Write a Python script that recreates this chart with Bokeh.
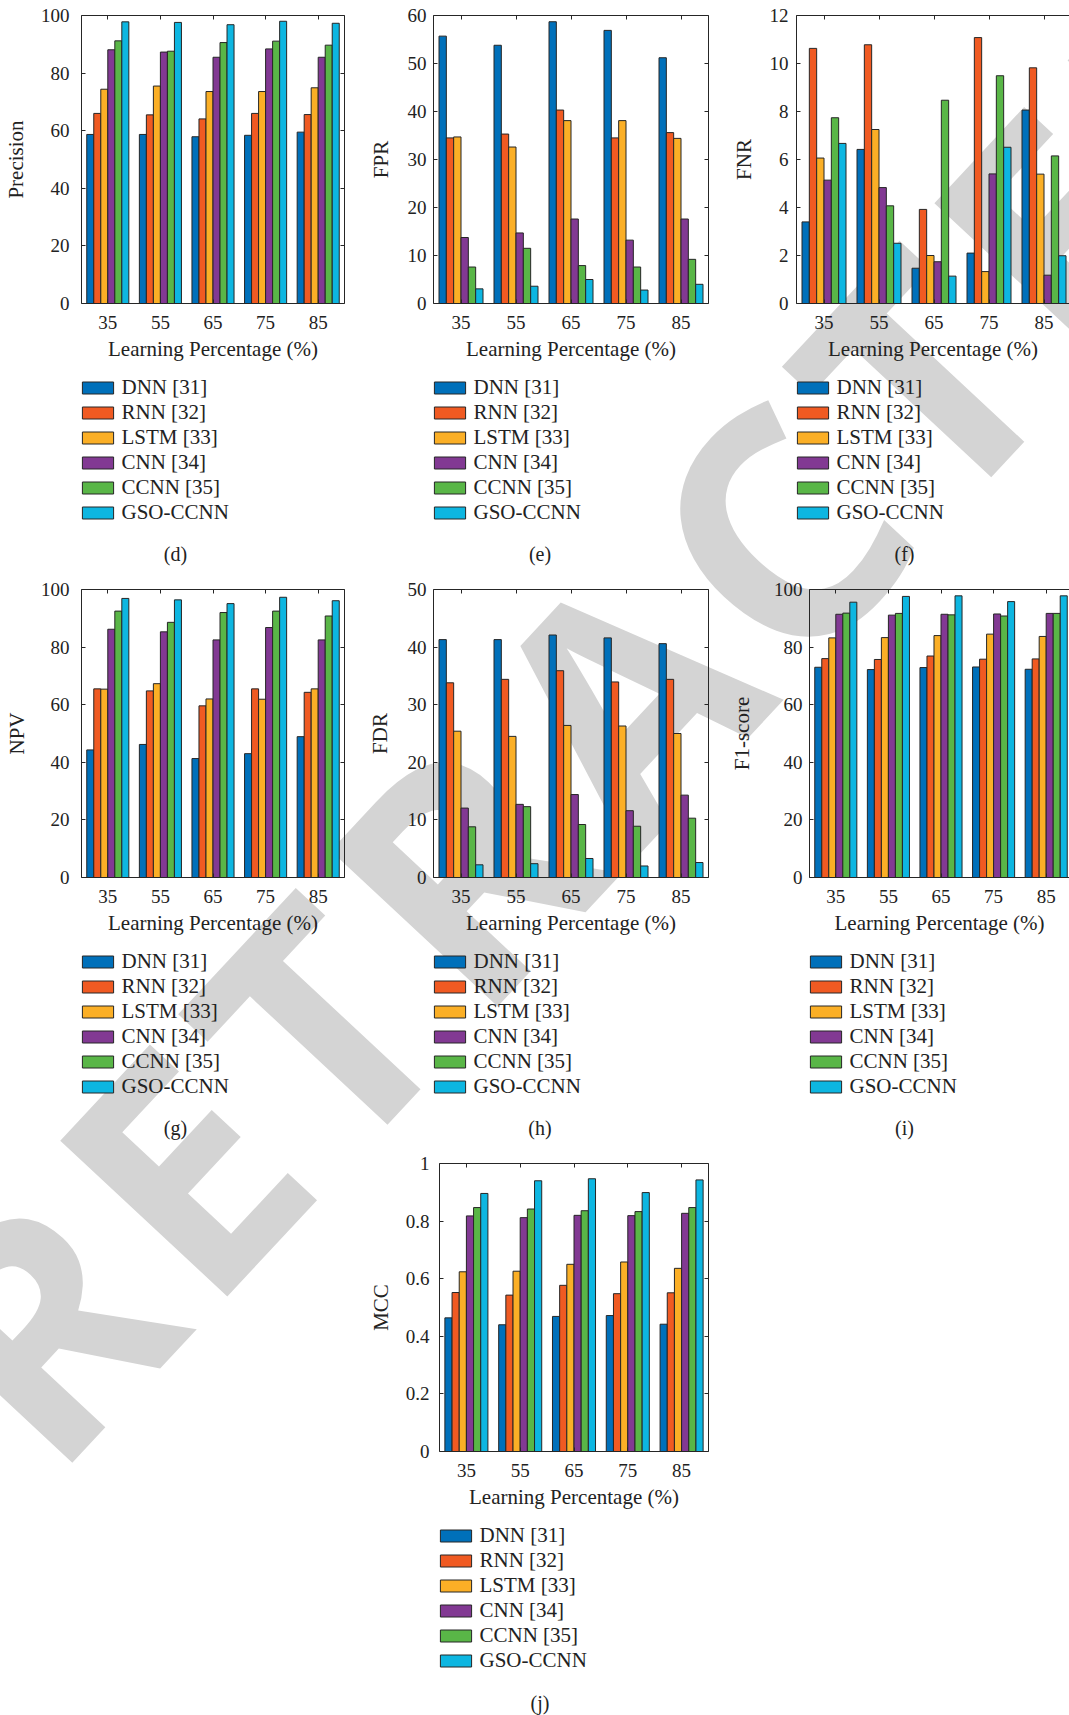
from bokeh.plotting import figure
from bokeh.models import (ColumnDataSource, FixedTicker, LinearAxis, Legend, LegendItem,
                          Label, Range1d, NumeralTickFormatter, Spacer)
from bokeh.layouts import row, column
from bokeh.transform import dodge
from bokeh.embed import file_html
from bokeh.resources import INLINE

# ---------------- data ----------------
lp_labels = ["35", "55", "65", "75", "85"]
models = ["DNN [31]", "RNN [32]", "LSTM [33]", "CNN [34]", "CCNN [35]", "GSO-CCNN"]
colors = ["#0070BA", "#F05A22", "#FBAF26", "#823993", "#59B647", "#0DB6E1"]

precision = {
    "DNN [31]": [58.7, 58.7, 57.9, 58.4, 59.5],
    "RNN [32]": [66.0, 65.5, 64.1, 66.0, 65.6],
    "LSTM [33]": [74.4, 75.5, 73.6, 73.6, 74.9],
    "CNN [34]": [88.1, 87.3, 85.5, 88.4, 85.5],
    "CCNN [35]": [91.2, 87.6, 90.6, 91.1, 89.7],
    "GSO-CCNN": [97.8, 97.6, 96.8, 98.0, 97.3],
}
fpr = {
    "DNN [31]": [55.7, 53.8, 58.7, 56.9, 51.2],
    "RNN [32]": [34.5, 35.3, 40.3, 34.5, 35.6],
    "LSTM [33]": [34.7, 32.6, 38.1, 38.1, 34.4],
    "CNN [34]": [13.75, 14.7, 17.6, 13.2, 17.6],
    "CCNN [35]": [7.6, 11.5, 7.9, 7.6, 9.2],
    "GSO-CCNN": [3.05, 3.6, 5.0, 2.8, 4.0],
}
fnr = {
    "DNN [31]": [3.40, 6.42, 1.47, 2.10, 8.06],
    "RNN [32]": [10.63, 10.78, 3.92, 11.08, 9.82],
    "LSTM [33]": [6.06, 7.25, 2.00, 1.33, 5.39],
    "CNN [34]": [5.14, 4.83, 1.74, 5.40, 1.18],
    "CCNN [35]": [7.74, 4.07, 8.47, 9.49, 6.15],
    "GSO-CCNN": [6.67, 2.51, 1.14, 6.51, 1.99],
}
npv = {
    "DNN [31]": [44.3, 46.2, 41.3, 43.0, 48.9],
    "RNN [32]": [65.5, 64.8, 59.6, 65.5, 64.3],
    "LSTM [33]": [65.4, 67.3, 62.0, 61.9, 65.5],
    "CNN [34]": [86.2, 85.3, 82.5, 86.8, 82.5],
    "CCNN [35]": [92.5, 88.6, 92.0, 92.5, 90.8],
    "GSO-CCNN": [96.9, 96.4, 95.1, 97.3, 96.1],
}
fdr = {
    "DNN [31]": [41.3, 41.3, 42.1, 41.6, 40.6],
    "RNN [32]": [33.8, 34.4, 35.9, 33.95, 34.4],
    "LSTM [33]": [25.4, 24.5, 26.4, 26.3, 25.0],
    "CNN [34]": [12.05, 12.7, 14.4, 11.6, 14.3],
    "CCNN [35]": [8.8, 12.3, 9.2, 8.9, 10.3],
    "GSO-CCNN": [2.2, 2.4, 3.3, 2.0, 2.6],
}
f1 = {
    "DNN [31]": [73.0, 72.2, 72.9, 73.1, 72.3],
    "RNN [32]": [76.0, 75.7, 76.9, 75.8, 75.9],
    "LSTM [33]": [83.2, 83.3, 84.0, 84.5, 83.7],
    "CNN [34]": [91.4, 91.1, 91.4, 91.5, 91.7],
    "CCNN [35]": [91.8, 91.7, 91.2, 90.8, 91.7],
    "GSO-CCNN": [95.6, 97.6, 97.8, 95.8, 97.8],
}
mcc = {
    "DNN [31]": [0.464, 0.440, 0.469, 0.472, 0.442],
    "RNN [32]": [0.552, 0.543, 0.577, 0.548, 0.551],
    "LSTM [33]": [0.624, 0.626, 0.650, 0.658, 0.636],
    "CNN [34]": [0.818, 0.812, 0.820, 0.819, 0.827],
    "CCNN [35]": [0.847, 0.842, 0.836, 0.833, 0.847],
    "GSO-CCNN": [0.896, 0.940, 0.947, 0.899, 0.943],
}

x_title = "Learning Percentage (%)"

# ---------------- style ----------------
SERIF = "Liberation Serif"
TEXT = "#222222"
EDGE = "#262626"
AXIS_BOTTOM = 66   # space under each plot frame for tick labels + axis title


def series_source(values):
    data = {"x": list(range(1, len(lp_labels) + 1))}
    for i, m in enumerate(models):
        data[f"s{i}"] = values[m]
    return ColumnDataSource(data)


def make_panel(values, ylabel, ymax, ystep, width, top, xend, left, right,
               ytick_standoff, ylabel_standoff, right_axis=True, yfmt=None):
    p = figure(width=width, height=top + 288 + AXIS_BOTTOM,
               x_range=Range1d(0.5, xend), y_range=Range1d(0, ymax),
               output_backend="svg", toolbar_location=None, tools="",
               min_border_left=left, min_border_right=right,
               min_border_top=top, min_border_bottom=AXIS_BOTTOM)
    p.background_fill_color = None
    p.border_fill_color = None
    p.outline_line_color = None
    p.grid.visible = False

    xs = list(range(1, len(lp_labels) + 1))
    src = series_source(values)
    n = len(models)
    bw = 0.8 / n
    for i, m in enumerate(models):
        off = -0.4 + bw * (i + 0.5)
        p.vbar(x=dodge("x", off), top=f"s{i}", bottom=0, width=bw, source=src,
               fill_color=colors[i], line_color=EDGE, line_width=1)

    yticks = []
    k = 0
    while k * ystep <= ymax + 1e-9:
        yticks.append(round(k * ystep, 6))
        k += 1

    for ax in p.xaxis:
        ax.ticker = FixedTicker(ticks=xs, minor_ticks=[])
        ax.major_label_overrides = {xv: lab for xv, lab in zip(xs, lp_labels)}
        ax.axis_label = x_title
        ax.major_label_standoff = 12
        ax.axis_label_standoff = 5
    for ax in p.yaxis:
        ax.ticker = FixedTicker(ticks=yticks, minor_ticks=[])
        ax.axis_label = ylabel
        ax.major_label_standoff = ytick_standoff
        ax.axis_label_standoff = ylabel_standoff
        if yfmt is not None:
            ax.formatter = yfmt
    for ax in list(p.xaxis) + list(p.yaxis):
        ax.major_tick_in = 4
        ax.major_tick_out = 0
        ax.minor_tick_in = 0
        ax.minor_tick_out = 0
        ax.axis_line_color = EDGE
        ax.major_tick_line_color = EDGE
        ax.major_label_text_font = SERIF
        ax.major_label_text_font_size = "19px"
        ax.major_label_text_color = TEXT
        ax.axis_label_text_font = SERIF
        ax.axis_label_text_font_size = "21px"
        ax.axis_label_text_font_style = "normal"
        ax.axis_label_text_color = TEXT

    top_ax = LinearAxis(ticker=FixedTicker(ticks=[], minor_ticks=xs),
                        minor_tick_in=4, minor_tick_out=0, major_tick_in=0, major_tick_out=0,
                        axis_line_color=EDGE, minor_tick_line_color=EDGE,
                        major_label_standoff=0)
    p.add_layout(top_ax, "above")
    if right_axis:
        right_ax = LinearAxis(ticker=FixedTicker(ticks=[], minor_ticks=yticks),
                              minor_tick_in=4, minor_tick_out=0, major_tick_in=0, major_tick_out=0,
                              axis_line_color=EDGE, minor_tick_line_color=EDGE,
                              major_label_standoff=0)
        p.add_layout(right_ax, "right")
    return p


def legend_box(values, width, height, leg_top, caption, cap_x, cap_from_top):
    # Legend strip under a plot; its frame is aligned with the plot frame above it,
    # so x positions are measured from the plot frame's left edge.
    q = figure(width=width, height=height, x_range=Range1d(0.5, 5.5), y_range=Range1d(0, 1),
               output_backend="svg", toolbar_location=None, tools="",
               x_axis_type=None, y_axis_type=None,
               min_border_left=0, min_border_right=0, min_border_top=0, min_border_bottom=0)
    q.background_fill_color = None
    q.border_fill_color = None
    q.outline_line_color = None
    q.grid.visible = False
    src = series_source(values)
    items = []
    for i, m in enumerate(models):
        # same series as the plot above; hidden here, only its legend swatch is shown
        r = q.vbar(x="x", top=f"s{i}", bottom=0, width=0.1, source=src,
                   fill_color=colors[i], line_color=EDGE, line_width=1)
        r.visible = False
        items.append(LegendItem(label=m, renderers=[r]))
    n = len(models)
    row_h = 25
    leg_h = n * row_h
    legend = Legend(items=items, location=(-3.5, height - leg_top - leg_h),
                    orientation="vertical", border_line_color=None, background_fill_alpha=0,
                    padding=0, margin=0, spacing=0, click_policy="none",
                    glyph_width=39, glyph_height=15, label_height=row_h, label_standoff=5,
                    label_text_font=SERIF, label_text_font_size="21px",
                    label_text_color=TEXT)
    q.add_layout(legend)
    q.add_layout(Label(x=cap_x, y=height - cap_from_top, x_units="screen", y_units="screen",
                       text=caption, text_align="center", text_baseline="middle",
                       text_font=SERIF, text_font_size="20px", text_color=TEXT))
    return q


p_d = make_panel(precision, "Precision", 100, 20, 360, 15, 5.5, 81, 16, 12, 10)
p_e = make_panel(fpr, "FPR", 60, 10, 360, 15, 5.5, 73, 12, 7, 12)
p_f = make_panel(fnr, "FNR", 12, 2, 349, 15, 0.5 + 273 / 55.0, 76, 0, 8, 11, right_axis=False)
p_g = make_panel(npv, "NPV", 100, 20, 360, 19, 5.5, 81, 16, 12, 9)
p_h = make_panel(fdr, "FDR", 50, 10, 360, 19, 5.5, 73, 12, 7, 13)
p_i = make_panel(f1, "F1-score", 100, 20, 349, 19, 0.5 + 260 / 52.6, 89, 0, 7, 17, right_axis=False)
p_j = make_panel(mcc, "MCC", 1, 0.2, 360, 23, 5.5, 79, 12, 10, 10,
                 yfmt=NumeralTickFormatter(format="0.[0]"))

# legend strip below each plot: first swatch centre 84px under the frame, caption 250px under it
H1 = 570 - (15 + 288 + AXIS_BOTTOM)
H2 = 570 - (19 + 288 + AXIS_BOTTOM)
H3 = 575 - (23 + 288 + AXIS_BOTTOM)
LT = 84 - AXIS_BOTTOM - 12.5
CT = 250 - AXIS_BOTTOM

layout = column(
    row(column(p_d, legend_box(precision, 360, H1, LT, "(d)", 94, CT)),
        column(p_e, legend_box(fpr, 360, H1, LT, "(e)", 106.5, CT)),
        column(p_f, legend_box(fnr, 349, H1, LT, "(f)", 108, CT))),
    row(column(p_g, legend_box(npv, 360, H2, LT, "(g)", 94, CT + 0.5)),
        column(p_h, legend_box(fdr, 360, H2, LT, "(h)", 106.5, CT + 0.5)),
        column(p_i, legend_box(f1, 349, H2, LT, "(i)", 95, CT + 0.5))),
    row(Spacer(width=360, height=575),
        column(p_j, legend_box(mcc, 360, H3, LT, "(j)", 100.5, CT + 1))),
)

TEMPLATE = """
{% block inner_body %}
<style>
  html, body { margin: 0 !important; padding: 0 !important; overflow: hidden !important; }
  #wmbox { position: absolute; left: 0; top: 0; width: 1069px; height: 1715px;
           overflow: hidden; z-index: -1; pointer-events: none; }
  #wm { position: absolute; left: -155px; top: 1290px;
        font-family: 'Open Sans', 'Liberation Sans', sans-serif; font-weight: 700;
        font-size: 320px; line-height: 1; letter-spacing: 16px; color: #d4d4d4;
        white-space: nowrap; transform-origin: 0 0; transform: rotate(-47deg); }
</style>
<div id="wmbox"><div id="wm">RETRACTED</div></div>
{{ super() }}
{% endblock %}
"""

html = file_html(layout, INLINE, title="Performance metrics", template=TEMPLATE)
open("out.html", "w").write(html)
